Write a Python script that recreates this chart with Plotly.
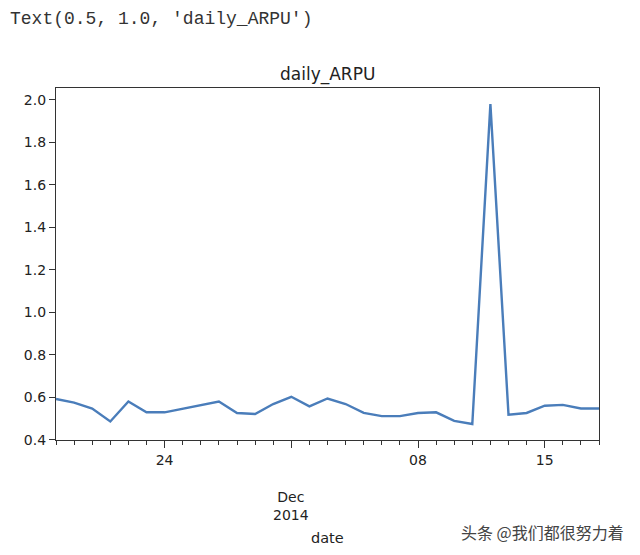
import plotly.graph_objects as go
import pandas as pd

dates = pd.date_range("2014-11-18", "2014-12-18", freq="D")
arpu = [0.592, 0.575, 0.547, 0.486, 0.580, 0.529, 0.529, 0.547, 0.564, 0.580,
        0.526, 0.521, 0.568, 0.602, 0.557, 0.594, 0.568, 0.526, 0.511, 0.511,
        0.526, 0.529, 0.489, 0.474, 1.980, 0.518, 0.526, 0.560, 0.564, 0.547,
        0.547]

x_tickvals = ["2014-11-24", "2014-12-01", "2014-12-08", "2014-12-15"]
x_ticktext = ["24", "", "08", "15"]
month_label = "Dec<br>2014"
month_label_at = "2014-12-01"
y_tickvals = [0.4, 0.6, 0.8, 1.0, 1.2, 1.4, 1.6, 1.8, 2.0]
y_ticktext = ["0.4", "0.6", "0.8", "1.0", "1.2", "1.4", "1.6", "1.8", "2.0"]

title_text = "daily_ARPU"
repr_text = "Text(0.5, 1.0, 'daily_ARPU')"
xlabel = "date"
watermark = "头条 @我们都很努力着"

axis_color = "#333333"
font_main = "DejaVu Sans"

fig = go.Figure()
fig.add_trace(go.Scatter(
    x=dates, y=arpu, mode="lines",
    line=dict(color="#4a7dba", width=2.4),
    showlegend=False, hoverinfo="skip",
))

fig.update_layout(
    width=640, height=555,
    margin=dict(l=48, r=49, t=80, b=123),
    paper_bgcolor="white", plot_bgcolor="white",
    font=dict(family=font_main, size=14, color="#222222"),
    xaxis=dict(
        range=["2014-11-18", "2014-12-18"],
        tickmode="array", tickvals=x_tickvals, ticktext=x_ticktext,
        ticks="outside", ticklen=7, tickwidth=1, tickcolor=axis_color,
        minor=dict(dtick=86400000, tick0="2014-11-18", ticks="outside",
                   ticklen=3.5, tickwidth=1, tickcolor=axis_color, showgrid=False),
        showline=True, linecolor=axis_color, linewidth=1.2, mirror=True,
        showgrid=False, zeroline=False,
        tickfont=dict(family=font_main, size=14, color="#222222"),
    ),
    yaxis=dict(
        range=[0.3987, 2.0553],
        tickmode="array", tickvals=y_tickvals, ticktext=y_ticktext,
        ticks="outside", ticklen=6, tickwidth=1, tickcolor=axis_color,
        showline=True, linecolor=axis_color, linewidth=1.2, mirror=True,
        showgrid=False, zeroline=False,
        tickfont=dict(family=font_main, size=14, color="#222222"),
    ),
)

fig.add_annotation(
    x=month_label_at, xref="x", y=0, yref="paper",
    text=month_label, showarrow=False, xanchor="center", yanchor="middle",
    yshift=-66, font=dict(family=font_main, size=14, color="#222222"),
)
fig.add_annotation(
    x=0.5, xref="paper", y=0, yref="paper",
    text=xlabel, showarrow=False, xanchor="center", yanchor="middle",
    yshift=-98, font=dict(family=font_main, size=14.5, color="#222222"),
)
fig.add_annotation(
    x=0.5, xref="paper", y=1, yref="paper",
    text=title_text, showarrow=False, xanchor="center", yanchor="middle",
    yshift=14, font=dict(family=font_main, size=17, color="#222222"),
)
fig.add_annotation(
    x=-0.0884, xref="paper", y=1, yref="paper",
    text=repr_text, showarrow=False, xanchor="left", yanchor="middle",
    yshift=69, font=dict(family="Liberation Mono", size=18, color="#333333"),
)
fig.add_annotation(
    x=1.05, xref="paper", y=0, yref="paper",
    text=watermark, showarrow=False, xanchor="right", yanchor="middle",
    yshift=-92, font=dict(family="Noto Sans CJK SC", size=16, color="#444444"),
)

fig.write_html("out.html")
